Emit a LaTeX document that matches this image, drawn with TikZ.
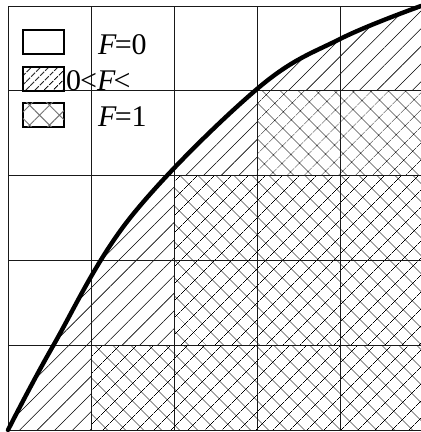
\documentclass[tikz,border=0pt]{standalone}
\usepackage{fontspec}
\setmainfont{Liberation Serif}
\usetikzlibrary{patterns.meta}

\begin{document}
\begin{tikzpicture}[x=1pt, y=-1pt,
  gridline/.style={line width=1pt, black!90},
  fline/.style={line width=4.4pt, line cap=round, line join=round},
  partcell/.style={pattern={Lines[angle=45, distance=12.5pt, line width=0.6pt]}},
  fullcell/.style={fill=white, postaction={pattern={Hatch[angle=45,
    distance=13pt, line width=0.6pt]}}},
  keybox/.style={draw, line width=1.8pt, minimum width=41pt,
    minimum height=24pt, inner sep=0pt, anchor=north west},
  keytext/.style={font=\fontsize{30}{34}\selectfont, anchor=base west,
    inner sep=0pt}
]
\useasboundingbox (0,0) rectangle (421,432);
% area under the curve
\fill[partcell] plot[smooth, tension=0.6] coordinates {(8,430) (53,346)
  (130,218) (257,89) (340,39) (421,6)}
  -- (423,6) -- (423,430) -- cycle;
% cells with F=1
\fill[fullcell] (257,90) rectangle (423,175);
\fill[fullcell] (174,175) rectangle (423,345);
\fill[fullcell] (91,345) rectangle (423,430);
% grid
\foreach \gx in {8,91,174,257,340}
  \draw[gridline] (\gx,6) -- (\gx,430);
\foreach \gy in {6,90,175,260,345,430}
  \draw[gridline] (8,\gy) -- (423,\gy);
\draw[fline] plot[smooth, tension=0.6] coordinates {(8,430) (53,346)
  (130,218) (257,89) (340,39) (421,6)};
% key
\node[keybox] (zero) at (22,29) {};
\node[keybox, pattern={Lines[angle=45, distance=6.4pt, line width=1.3pt]}]
  (part) at (22,66) {};
\node[keybox, fill=white, postaction={pattern={Hatch[angle=45,
  distance=14pt, line width=0.9pt]}, pattern color=black!55}] (full) at (22,102) {};
\node[keytext] (zerolab) at (98,54) {\textit{F}\kern-2pt=0};
\node[keytext] (partlab) at (66,90) {0\kern-1pt<\textit{F}\kern-2pt<};
\node[keytext] (fulllab) at (98,126) {\textit{F}\kern-2pt=1};
\end{tikzpicture}
\end{document}
